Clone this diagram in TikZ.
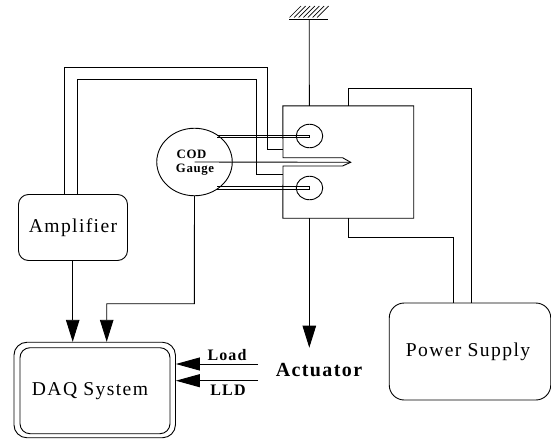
\documentclass[tikz,border=0pt]{standalone}
\usepackage{fontspec}
\setmainfont{Liberation Serif}
\usetikzlibrary{arrows.meta,calc,shapes.geometric}
\tikzset{
  wire/.style={line width=0.9pt,draw=black},
  arrowwire/.style={wire,-{Triangle[length=22pt,width=13.5pt]}},
  rbox/.style={draw,line width=0.9pt,rounded corners=#1,inner sep=0pt,align=center},
  rbox/.default=10pt,
  ell/.style={draw,ellipse,line width=0.9pt,inner sep=0pt},
  lab/.style={font=\fontsize{19.6}{22}\selectfont\addfontfeature{LetterSpace=7},inner sep=0pt},
  blab/.style={font=\fontsize{16}{18}\selectfont\bfseries\addfontfeature{LetterSpace=7},inner sep=0pt},
  slab/.style={font=\fontsize{12.8}{14}\selectfont\bfseries\addfontfeature{LetterSpace=5},inner sep=0pt},
}
\begin{document}
\begin{tikzpicture}[x=1pt,y=-1pt]
\useasboundingbox (0,0) rectangle (551,439);
% nodes
\node[rbox,minimum width=109pt,minimum height=66pt,lab] (amp) at (73,227.5) {Amplifier};
\node[rbox=13pt,minimum width=161.5pt,minimum height=95.5pt] (daqo) at (94.7,390) {};
\node[rbox=10pt,minimum width=150pt,minimum height=86pt] (daq) at (95,390.7) {};
\node[lab] (daqt) at (90,391) {DAQ System};
\node[rbox=15pt,minimum width=161.5pt,minimum height=97pt] (ps) at (470,351.5) {};
\node[lab] (pst) at (468,352) {Power Supply};
\node[ell,minimum width=75.5pt,minimum height=67.5pt] (cod) at (194.5,162) {};
\node[slab] (codt) at (191.5,154.3) {COD};
\node[slab] (codg) at (195,169.5) {Gauge};
\node[minimum width=130.5pt,minimum height=112pt,inner sep=0pt] (block) at (348.3,162) {};
\node[ell,minimum width=26.5pt,minimum height=23.5pt] (c1) at (309.5,136) {};
\node[ell,minimum width=26.5pt,minimum height=23.5pt] (c2) at (309.5,188) {};
\node[blab] (load) at (227,355.5) {Load};
\node[blab] (lld) at (228,390) {LLD};
\node[blab,font=\fontsize{20}{22}\selectfont\bfseries\addfontfeature{LetterSpace=7}] (act) at (319,370.5) {Actuator};
% specimen outline
\coordinate (tip) at (350.7,162.3);
\draw[wire,line join=miter] (block.north west) -- (block.north east) -- (block.south east) -- (block.south west)
  -- (283,166) -- (342.5,166) -- (tip) -- (342.5,157.7) -- (283,157.7) -- cycle;
% ground
\coordinate (g1) at (289,19);
\coordinate (g2) at (328,19);
\draw[wire] (g1) -- (g2);
\foreach \i in {0,...,6} \draw[line width=0.7pt,black] (289.5+4.6*\i,17.5) -- ++(11.5,-11.5);
\draw[wire] ($(g1)!0.52!(g2)$) -- (block.north -| 309.3,0);
% gauge wires
\coordinate (w1) at (64.5,67);
\coordinate (w2) at (267,67);
\coordinate (w3) at (77,79);
\coordinate (w4) at (256,79);
\draw[wire] (amp.north -| w1) -- (w1) -- (w2) |- (283,149.5);
\draw[wire] (amp.north -| w3) -- (w3) -- (w4) |- (283,174.6);
\draw[wire] (217,135) -- (309.5,135) -- (309.5,137.5) -- (217,137.5);
\draw[wire] (217,186.2) -- (309.5,186.2) -- (309.5,189) -- (217,189);
\draw[wire] (cod.center) -- (tip);
% to DAQ
\draw[arrowwire] (amp.south -| 72.7,0) -- (daqo.north -| 72.7,0);
\coordinate (b1) at (194.3,303.7);
\coordinate (b2) at (106.7,303.7);
\draw[arrowwire] (cod.south) -- (b1) -- (b2) -- (daqo.north -| b2);
\coordinate (lf) at (258,364);
\coordinate (llf) at (258,380.7);
\draw[arrowwire,-{Triangle[length=24pt,width=13pt]}] (lf) -- (daqo.east |- lf);
\draw[arrowwire,-{Triangle[length=24pt,width=13pt]}] (llf) -- (daqo.east |- llf);
% actuator
\coordinate (a1) at (309.3,347.7);
\draw[arrowwire] (block.south -| a1) -- (a1);
% power
\coordinate (p1) at (348.3,88.3);
\coordinate (p2) at (471.7,88.3);
\coordinate (p3) at (348.3,237.3);
\coordinate (p4) at (453.3,237.3);
\draw[wire] (block.north -| p1) -- (p1) -- (p2) -- (ps.north -| p2);
\draw[wire] (block.south -| p3) -- (p3) -- (p4) -- (ps.north -| p4);
\end{tikzpicture}
\end{document}
